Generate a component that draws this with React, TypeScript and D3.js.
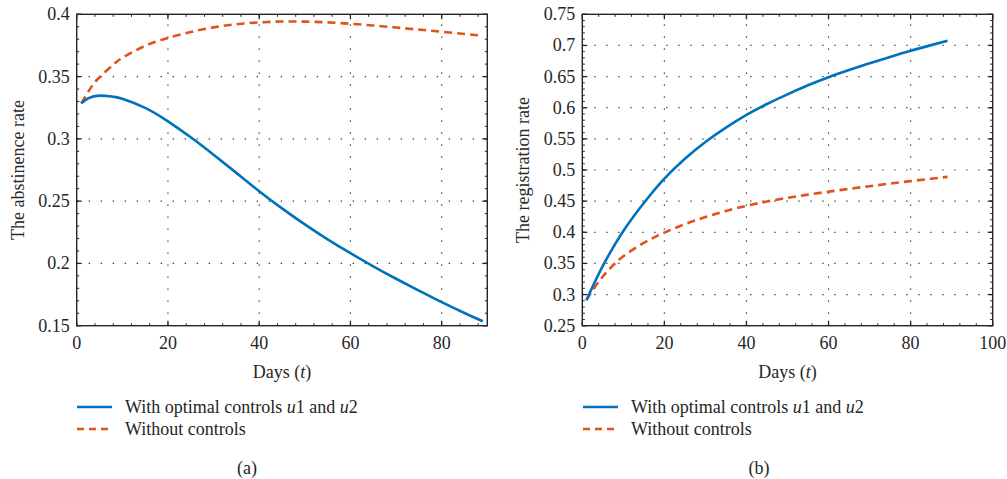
import React from "react";
import * as d3 from "d3";

// ---- Data ----
const leftOptX = [1, 2.5, 5, 8, 10, 15, 20, 25, 30, 35, 40, 45, 50, 55, 60, 65, 70, 75, 80, 85, 89];
const leftOptY = [0.3285, 0.3325, 0.3347, 0.3338, 0.3322, 0.3249, 0.3141, 0.3013, 0.2873, 0.2727, 0.258, 0.2442, 0.2313, 0.2193, 0.2082, 0.1977, 0.1877, 0.1781, 0.1689, 0.1602, 0.1536];
const leftNoX = [1, 3, 5, 8, 10, 15, 20, 25, 30, 35, 40, 45, 50, 55, 60, 65, 70, 75, 80, 85, 89];
const leftNoY = [0.3285, 0.3405, 0.3495, 0.3595, 0.365, 0.3747, 0.381, 0.3858, 0.3895, 0.392, 0.3935, 0.3942, 0.3941, 0.3935, 0.3924, 0.391, 0.3894, 0.3877, 0.386, 0.3842, 0.3828];

const rightOptX = [1, 5, 10, 15, 20, 25, 30, 35, 40, 45, 50, 55, 60, 65, 70, 75, 80, 85, 89];
const rightOptY = [0.291, 0.346, 0.402, 0.447, 0.486, 0.518, 0.545, 0.568, 0.5885, 0.606, 0.6215, 0.636, 0.649, 0.6605, 0.6713, 0.6816, 0.6915, 0.7005, 0.7075];
const rightNoX = [1, 3, 5, 7, 10, 15, 20, 25, 30, 35, 40, 45, 50, 55, 60, 65, 70, 75, 80, 85, 89];
const rightNoY = [0.291, 0.3115, 0.329, 0.3435, 0.3615, 0.383, 0.3995, 0.413, 0.4245, 0.4342, 0.4425, 0.4494, 0.4553, 0.4605, 0.4652, 0.4697, 0.474, 0.4782, 0.4822, 0.486, 0.489];

const leftXTicks = [0, 20, 40, 60, 80];
const leftYTicks = [0.15, 0.2, 0.25, 0.3, 0.35, 0.4];
const rightXTicks = [0, 20, 40, 60, 80, 100];
const rightYTicks = [0.25, 0.3, 0.35, 0.4, 0.45, 0.5, 0.55, 0.6, 0.65, 0.7, 0.75];

const legendLabels = ["With optimal controls", "Without controls"];

const BLUE = "#0072BD";
const ORANGE = "#E2531B";
const AXIS = "#262626";
const FONT = "'Liberation Serif', 'Times New Roman', serif";

type PanelProps = {
  x0: number; x1: number; y0: number; y1: number;
  xDomain: [number, number]; yDomain: [number, number];
  xTicks: number[]; yTicks: number[];
  xMinorStep: number; yMinorStep: number;
  optX: number[]; optY: number[]; noX: number[]; noY: number[];
  yLabel: string; yLabelX: number; legendX: number; caption: string; captionX: number;
  fmt: (v: number) => string;
};

function Panel(p: PanelProps) {
  const xs = d3.scaleLinear().domain(p.xDomain).range([p.x0, p.x1]);
  const ys = d3.scaleLinear().domain(p.yDomain).range([p.y1, p.y0]);
  const line = d3.line<[number, number]>().x(d => xs(d[0])).y(d => ys(d[1])).curve(d3.curveNatural);
  const optPts = p.optX.map((x, i) => [x, p.optY[i]] as [number, number]);
  const noPts = p.noX.map((x, i) => [x, p.noY[i]] as [number, number]);
  const xMinor = d3.range(p.xDomain[0], p.xDomain[1] + 1e-9, p.xMinorStep);
  const yMinor = d3.range(p.yDomain[0], p.yDomain[1] + 1e-9, p.yMinorStep);
  const major = 5, minor = 2.5;
  const midX = (p.x0 + p.x1) / 2;
  const midY = (p.y0 + p.y1) / 2;
  return (
    <g>
      {p.xTicks.filter(t => xs(t) > p.x0 + 1 && xs(t) < p.x1 - 1).map(t => (
        <line key={"gx" + t} x1={xs(t)} x2={xs(t)} y1={p.y1} y2={p.y0} stroke={AXIS} strokeWidth={1.2} strokeDasharray="1.2,10.8" />
      ))}
      {p.yTicks.filter(t => ys(t) > p.y0 + 1 && ys(t) < p.y1 - 1).map(t => (
        <line key={"gy" + t} x1={p.x0} x2={p.x1} y1={ys(t)} y2={ys(t)} stroke={AXIS} strokeWidth={1.2} strokeDasharray="1.2,10.8" />
      ))}
      <path d={line(noPts) || ""} fill="none" stroke={ORANGE} strokeWidth={2.6} strokeDasharray="8,5" />
      <path d={line(optPts) || ""} fill="none" stroke={BLUE} strokeWidth={2.6} />
      {xMinor.map((t, i) => (
        <g key={"mx" + i}>
          <line x1={xs(t)} x2={xs(t)} y1={p.y1} y2={p.y1 - minor} stroke={AXIS} strokeWidth={1} />
          <line x1={xs(t)} x2={xs(t)} y1={p.y0} y2={p.y0 + minor} stroke={AXIS} strokeWidth={1} />
        </g>
      ))}
      {yMinor.map((t, i) => (
        <g key={"my" + i}>
          <line x1={p.x0} x2={p.x0 + minor} y1={ys(t)} y2={ys(t)} stroke={AXIS} strokeWidth={1} />
          <line x1={p.x1} x2={p.x1 - minor} y1={ys(t)} y2={ys(t)} stroke={AXIS} strokeWidth={1} />
        </g>
      ))}
      {p.xTicks.map(t => (
        <g key={"tx" + t}>
          <line x1={xs(t)} x2={xs(t)} y1={p.y1} y2={p.y1 - major} stroke={AXIS} strokeWidth={1.3} />
          <line x1={xs(t)} x2={xs(t)} y1={p.y0} y2={p.y0 + major} stroke={AXIS} strokeWidth={1.3} />
          <text x={xs(t)} y={349} textAnchor="middle" fontFamily={FONT} fontSize={18} fill={AXIS}>{t}</text>
        </g>
      ))}
      {p.yTicks.map(t => (
        <g key={"ty" + t}>
          <line x1={p.x0} x2={p.x0 + major} y1={ys(t)} y2={ys(t)} stroke={AXIS} strokeWidth={1.3} />
          <line x1={p.x1} x2={p.x1 - major} y1={ys(t)} y2={ys(t)} stroke={AXIS} strokeWidth={1.3} />
          <text x={p.x0 - 7} y={ys(t) + 6} textAnchor="end" fontFamily={FONT} fontSize={18} fill={AXIS}>{p.fmt(t)}</text>
        </g>
      ))}
      <rect x={p.x0} y={p.y0} width={p.x1 - p.x0} height={p.y1 - p.y0} fill="none" stroke={AXIS} strokeWidth={1.4} />
      <text x={midX} y={378} textAnchor="middle" fontFamily={FONT} fontSize={18} fill={AXIS}>
        Days (<tspan fontStyle="italic">t</tspan>)
      </text>
      <text transform={`translate(${p.yLabelX},${midY}) rotate(-90)`} textAnchor="middle" fontFamily={FONT} fontSize={18} fill={AXIS}>{p.yLabel}</text>
      <line x1={p.legendX} x2={p.legendX + 35} y1={407} y2={407} stroke={BLUE} strokeWidth={2.6} />
      <text x={p.legendX + 48} y={413} fontFamily={FONT} fontSize={18} fill={AXIS}>
        {legendLabels[0]} <tspan fontStyle="italic">u</tspan>1 and <tspan fontStyle="italic">u</tspan>2
      </text>
      <line x1={p.legendX} x2={p.legendX + 35} y1={429} y2={429} stroke={ORANGE} strokeWidth={2.6} strokeDasharray="7,5" />
      <text x={p.legendX + 48} y={435} fontFamily={FONT} fontSize={18} fill={AXIS}>{legendLabels[1]}</text>
      <text x={p.captionX} y={474} textAnchor="middle" fontFamily={FONT} fontSize={18} fill={AXIS}>{p.caption}</text>
    </g>
  );
}

export default function App() {
  const fmt = (v: number) => String(+v.toFixed(2));
  return (
    <svg width={1007} height={479} style={{ position: "absolute", left: 0, top: 0, background: "#fff" }}>
      <rect width={1007} height={479} fill="#fff" />
      <Panel x0={76.7} x1={487.3} y0={14.3} y1={325.7} xDomain={[0, 90]} yDomain={[0.15, 0.4]}
        xTicks={leftXTicks} yTicks={leftYTicks} xMinorStep={4} yMinorStep={0.01}
        optX={leftOptX} optY={leftOptY} noX={leftNoX} noY={leftNoY}
        yLabel="The abstinence rate" yLabelX={24} legendX={77} caption="(a)" captionX={247} fmt={fmt} />
      <Panel x0={582.3} x1={992.7} y0={14.3} y1={325.7} xDomain={[0, 100]} yDomain={[0.25, 0.75]}
        xTicks={rightXTicks} yTicks={rightYTicks} xMinorStep={4} yMinorStep={0.01}
        optX={rightOptX} optY={rightOptY} noX={rightNoX} noY={rightNoY}
        yLabel="The registration rate" yLabelX={529} legendX={583} caption="(b)" captionX={759} fmt={fmt} />
    </svg>
  );
}
